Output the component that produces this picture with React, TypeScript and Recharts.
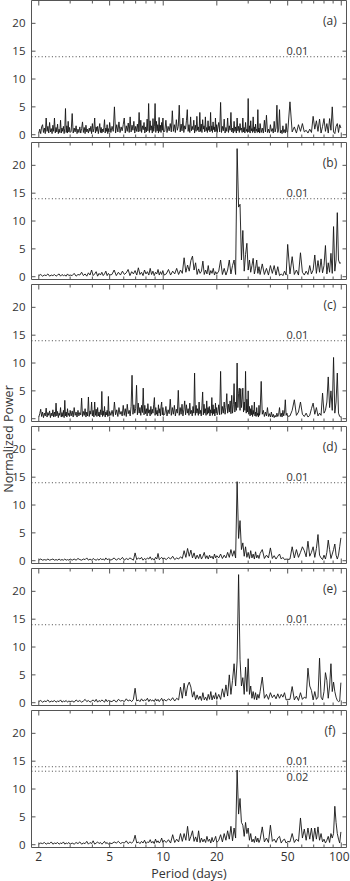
import { LineChart, Line, XAxis, YAxis, ReferenceArea, ReferenceDot, ReferenceLine } from 'recharts'

// period grid (days) for panels b, d, e, f
const periods = [
  2.00, 2.05, 2.10, 2.15, 2.20, 2.25, 2.30, 2.35, 2.40, 2.45, 2.50, 2.55, 2.60, 2.65, 2.70, 2.75, 2.80, 2.85, 2.90, 2.95, 3.00,
  3.08, 3.16, 3.24, 3.32, 3.40, 3.48, 3.56, 3.64, 3.72, 3.80, 3.88, 3.96, 4.04, 4.12, 4.20, 4.28, 4.36, 4.44, 4.52, 4.60, 4.68, 4.76, 4.84, 4.92, 5.00,
  5.15, 5.30, 5.45, 5.60, 5.75, 5.90, 6.05, 6.20, 6.35, 6.50, 6.65, 6.80, 6.95, 7.10, 7.25, 7.40, 7.55, 7.70, 7.85, 8.00, 8.15, 8.30, 8.45, 8.60, 8.75, 8.90, 9.05, 9.20, 9.35, 9.50, 9.65, 9.80, 9.95, 10.1,
  10.4, 10.7, 11.0, 11.3, 11.6, 11.9, 12.2, 12.5, 12.8, 13.1, 13.4, 13.7, 14.0, 14.3, 14.6, 14.9, 15.2, 15.5, 15.8, 16.1, 16.4, 16.7, 17.0, 17.3, 17.6, 17.9, 18.2, 18.5, 18.8, 19.1, 19.4, 19.7, 20.0,
  20.5, 21, 21.5, 22, 22.5, 23, 23.5, 24, 24.5, 25, 25.5, 26, 26.5, 27, 27.5, 28, 28.5, 29, 29.5, 30, 30.5, 31, 31.5, 32, 32.5, 33, 33.5, 34, 34.5, 35,
  36, 37, 38, 39, 40, 41, 42, 43, 44, 45, 46, 47, 48, 49, 50,
  51.5, 53, 54.5, 56, 57.5, 59, 60.5, 62, 63.5, 65, 66.5, 68, 69.5, 71, 72.5, 74, 75.5, 77, 78.5, 80, 81.5, 83, 84.5, 86, 87.5, 89, 90.5, 92, 93.5, 95, 96.5, 98, 99.5,
]

// finer period grid (days) for the noisy panels a and c
const periodsDense = [
  2.000, 2.025, 2.050, 2.075, 2.100, 2.125, 2.150, 2.175, 2.200, 2.225, 2.250, 2.275, 2.300, 2.325, 2.350, 2.375, 2.400, 2.425, 2.450, 2.475,
  2.500, 2.525, 2.550, 2.575, 2.600, 2.625, 2.650, 2.675, 2.700, 2.725, 2.750, 2.775, 2.800, 2.825, 2.850, 2.875, 2.900, 2.925, 2.950, 2.975, 3.000,
  3.04, 3.08, 3.12, 3.16, 3.20, 3.24, 3.28, 3.32, 3.36, 3.40, 3.44, 3.48, 3.52, 3.56, 3.60, 3.64, 3.68, 3.72, 3.76, 3.80,
  3.84, 3.88, 3.92, 3.96, 4.00, 4.04, 4.08, 4.12, 4.16, 4.20, 4.24, 4.28, 4.32, 4.36, 4.40, 4.44, 4.48, 4.52, 4.56, 4.60,
  4.64, 4.68, 4.72, 4.76, 4.80, 4.84, 4.88, 4.92, 4.96, 5.00,
  5.08, 5.16, 5.24, 5.32, 5.40, 5.48, 5.56, 5.64, 5.72, 5.80, 5.88, 5.96, 6.04, 6.12, 6.20, 6.28, 6.36, 6.44, 6.52, 6.60,
  6.68, 6.76, 6.84, 6.92, 7.00, 7.08, 7.16, 7.24, 7.32, 7.40, 7.48, 7.56, 7.64, 7.72, 7.80, 7.88, 7.96, 8.04, 8.12, 8.20,
  8.28, 8.36, 8.44, 8.52, 8.60, 8.68, 8.76, 8.84, 8.92, 9.00, 9.08, 9.16, 9.24, 9.32, 9.40, 9.48, 9.56, 9.64, 9.72, 9.80,
  9.88, 9.96, 10.04,
  10.20, 10.35, 10.50, 10.65, 10.80, 10.95, 11.10, 11.25, 11.40, 11.55, 11.70, 11.85, 12.00, 12.15, 12.30, 12.45, 12.60, 12.75, 12.90, 13.05,
  13.20, 13.35, 13.50, 13.65, 13.80, 13.95, 14.10, 14.25, 14.40, 14.55, 14.70, 14.85, 15.00, 15.15, 15.30, 15.45, 15.60, 15.75, 15.90, 16.05,
  16.20, 16.35, 16.50, 16.65, 16.80, 16.95, 17.10, 17.25, 17.40, 17.55, 17.70, 17.85, 18.00, 18.15, 18.30, 18.45, 18.60, 18.75, 18.90, 19.05,
  19.20, 19.35, 19.50, 19.65, 19.80, 19.95, 20.10,
  20.25, 20.50, 20.75, 21.00, 21.25, 21.50, 21.75, 22.00, 22.25, 22.50, 22.75, 23.00, 23.25, 23.50, 23.75, 24.00, 24.25, 24.50, 24.75, 25.00,
  25.25, 25.50, 25.75, 26.00, 26.25, 26.50, 26.75, 27.00, 27.25, 27.50, 27.75, 28.00, 28.25, 28.50, 28.75, 29.00, 29.25, 29.50, 29.75, 30.00,
  30.25, 30.50, 30.75, 31.00, 31.25, 31.50, 31.75, 32.00, 32.25, 32.50, 32.75, 33.00, 33.25, 33.50, 33.75, 34.00, 34.25, 34.50, 34.75, 35.00,
  35.5, 36, 36.5, 37, 37.5, 38, 38.5, 39, 39.5, 40, 40.5, 41, 41.5, 42, 42.5, 43, 43.5, 44, 44.5, 45, 45.5, 46, 46.5, 47, 47.5, 48, 48.5, 49, 49.5, 50,
  51.5, 53, 54.5, 56, 57.5, 59, 60.5, 62, 63.5, 65, 66.5, 68, 69.5, 71, 72.5, 74, 75.5, 77, 78.5, 80, 81.5, 83, 84.5, 86, 87.5, 89, 90.5, 92, 93.5, 95, 96.5, 98, 99.5,
]

// normalized power, one list per panel
const powerA = [
  0.3, 1.0, 0.2, 1.4, 1.8,  0.4, 1.2, 0.2, 3.0, 0.6,  1.5, 0.3, 2.2, 0.5, 1.1,  0.2, 1.7, 0.6, 3.0, 0.3,
  1.3, 0.5, 1.9, 0.2, 1.0,  0.4, 2.6, 0.3, 1.2, 0.6,  1.5, 0.2, 1.1, 4.7, 0.4,  1.6, 0.3, 2.4, 0.5, 1.3,  0.4,
  0.6, 3.8, 0.3, 1.2, 0.5,  1.6, 0.2, 1.0, 0.4, 1.4,  0.3, 1.1, 2.3, 0.4, 1.3,  0.2, 1.7, 0.5, 1.0, 0.3,
  1.2, 0.6, 1.5, 0.2, 2.0,  0.5, 1.1, 3.0, 0.3, 1.4,  0.6, 1.5, 0.2, 1.1, 2.0,  0.4, 1.3, 0.3, 1.0, 0.5,
  1.3, 2.7, 0.3, 1.2, 0.6,  1.8, 0.2, 1.1, 0.5, 2.2,
  0.4, 1.5, 0.6, 5.0, 0.3,  1.8, 0.5, 2.3, 0.4, 1.4,  0.7, 1.8, 3.0, 0.3, 1.6,  0.6, 2.1, 0.4, 3.2, 0.5,
  1.7, 0.8, 2.4, 0.3, 1.5,  0.6, 1.9, 0.5, 4.0, 0.6,  2.6, 0.4, 1.6, 0.9, 2.2,  0.3, 1.4, 0.5, 2.8, 0.7,
  5.6, 0.4, 2.5, 0.8, 1.6,  0.3, 2.9, 0.6, 1.5, 5.6,  0.4, 2.4, 0.7, 1.8, 0.3,  3.1, 0.6, 1.7, 0.4, 2.2,
  0.8, 3.0, 0.5,
  0.6, 2.6, 0.4, 1.5, 0.7,  2.0, 0.5, 4.3, 0.6, 1.8,  0.4, 2.7, 0.8, 1.5, 5.3,  0.5, 1.9, 0.7, 3.0, 0.4,
  1.6, 1.0, 2.5, 4.5, 0.6,  1.8, 0.4, 3.2, 0.7, 1.5,  0.9, 2.6, 0.3, 1.7, 0.6,  3.3, 0.8, 1.4, 0.5, 4.0,
  0.6, 1.9, 0.4, 2.7, 1.0,  1.6, 0.5, 3.2, 0.7, 1.3,  0.4, 2.5, 0.8, 1.5, 0.5,  4.0, 0.7, 1.6, 0.4, 2.3,
  0.9, 1.4, 0.5, 3.0, 0.6,  1.8, 0.4,
  1.2, 2.2, 0.5, 5.8, 0.4,  1.5, 0.7, 2.8, 0.3, 1.3,  0.6, 3.0, 0.4, 1.6, 0.8,  4.0, 0.5, 1.2, 0.3, 2.4,
  0.6, 1.4, 0.3, 3.0, 0.7,  1.5, 0.4, 2.0, 0.8, 1.2,  0.4, 3.0, 0.5, 1.3, 0.3,  2.2, 0.6, 1.0, 0.4, 6.5,
  0.5, 1.6, 0.3, 2.5, 0.7,  1.1, 0.4, 3.2, 0.6, 1.4,  0.3, 1.9, 0.7, 1.0, 0.4,  4.5, 0.5, 1.2, 0.3, 2.0,
  0.4, 1.2, 0.3, 2.6, 0.5,  3.5, 0.4, 1.0, 0.3, 1.8,  0.6, 1.1, 0.3, 2.4, 0.5,  1.2, 5.3, 0.4, 1.0, 4.5,
  0.3, 0.8, 0.2, 1.6, 0.4,  0.9, 0.3, 2.0, 0.5, 0.4,
  5.9, 0.5, 1.4, 0.3, 1.8,  0.6, 2.0, 0.5, 0.8, 0.3,  1.0, 0.4, 3.3, 1.0, 2.5,  0.6, 2.8, 0.3, 1.5, 2.9,  0.6, 2.0, 0.3, 2.9, 0.8,  5.0, 0.5, 0.2, 1.5, 2.0,  0.4, 1.8, 1.2,
]

const powerB = [
  0.2, 0.4, 0.1, 0.3, 0.2,  0.5, 0.1, 0.3, 0.2, 0.4,  0.1, 0.3, 0.5, 0.1, 0.4,  0.2, 0.3, 0.1, 0.5, 0.2,  0.3,
  0.2, 0.6, 0.1, 0.4, 0.3,  0.8, 0.2, 0.5, 0.1, 0.7,  0.3, 1.2, 0.2, 0.5, 0.9,  0.1, 0.6, 0.3, 0.8, 0.2,  0.5, 1.0, 0.2, 0.6, 0.3,
  0.4, 1.2, 0.2, 0.8, 0.3,  1.0, 0.4, 0.7, 1.3, 0.2,  0.9, 0.5, 1.1, 0.3, 1.6,  0.4, 0.8, 0.2, 1.2, 0.5,  0.9, 0.3, 1.5, 0.4, 1.0,  0.2, 0.8, 0.5, 1.3, 0.3,  0.9, 0.4, 1.1, 0.3,
  0.5, 1.3, 0.3, 1.0, 0.5,  1.5, 0.4, 1.2, 0.6, 3.4,  0.8, 2.1, 1.0, 2.9, 3.7,  1.2, 2.5, 0.4, 1.4, 0.6,  1.0, 2.8, 0.4, 1.2, 0.5,  2.0, 0.3, 1.1, 0.6, 1.5,  0.3, 0.9, 0.5,
  1.0, 3.0, 0.4, 1.5, 0.3,  1.2, 3.0, 0.5, 2.0, 3.0,  0.4, 23.0, 12.5, 13.0, 3.0,  8.3, 1.0, 4.0, 6.0, 1.2,  3.0, 0.8, 2.0, 3.3, 0.5,  1.5, 3.0, 0.6, 1.8, 0.4,
  2.3, 0.4, 1.5, 0.3, 2.0,  0.6, 2.0, 0.3, 1.8, 0.2,  0.5, 0.2, 1.0, 0.3, 5.8,
  0.5, 3.6, 0.4, 1.2, 0.3,  4.3, 0.8, 0.3, 1.0, 0.4,  2.0, 0.5, 1.2, 3.9, 0.6,  2.9, 0.8, 3.2, 0.7, 2.0,  5.6, 0.5, 2.5, 0.8, 4.2,  0.6, 9.0, 1.0, 3.0, 11.5,  3.0, 2.4, 2.5,
]

const powerC = [
  0.3, 0.9, 1.7, 0.4, 1.2,  0.2, 1.0, 0.5, 1.9, 0.3,  1.1, 0.6, 1.4, 0.2, 1.0,  0.5, 1.6, 0.3, 1.2, 0.4,
  2.8, 0.5, 1.3, 0.2, 1.0,  0.6, 2.0, 0.3, 1.1, 0.4,  1.5, 0.2, 3.3, 0.5, 1.2,  0.3, 1.8, 0.6, 1.0, 0.4,  1.5,
  0.5, 1.4, 0.3, 2.0, 0.6,  1.2, 0.3, 1.5, 0.5, 1.1,  0.7, 3.7, 0.4, 1.3, 0.6,  1.8, 0.3, 1.2, 0.5, 3.9,
  0.4, 1.4, 0.8, 3.0, 0.5,  1.5, 0.3, 3.0, 0.6, 1.7,  0.4, 2.0, 0.5, 1.2, 0.3,  1.6, 0.7, 4.9, 0.4, 1.4,
  0.6, 2.2, 0.3, 1.2, 0.7,  1.5, 0.4, 4.0, 0.5, 1.3,
  0.6, 1.5, 0.4, 3.0, 0.7,  1.6, 0.4, 2.0, 0.8, 1.3,  0.5, 2.4, 0.6, 1.8, 0.4,  2.6, 0.9, 1.5, 0.5, 2.2,
  7.8, 0.8, 2.5, 1.0, 1.8,  6.0, 0.7, 2.8, 1.0, 2.0,  0.6, 2.4, 1.1, 5.5, 0.7,  2.4, 0.9, 1.8, 0.5, 2.7,
  1.0, 1.6, 0.5, 2.2, 0.8,  1.7, 1.0, 2.5, 3.8, 0.6,  2.0, 0.8, 1.5, 0.5, 2.5,  1.0, 1.8, 0.5, 2.2, 3.0,
  0.7, 2.0, 0.6,
  0.8, 2.2, 0.5, 1.6, 0.9,  3.5, 0.6, 2.0, 0.8, 2.4,  0.5, 1.7, 1.0, 5.1, 0.6,  2.0, 0.8, 2.6, 0.5, 1.6,
  3.2, 0.7, 2.5, 1.0, 1.8,  0.6, 2.8, 0.9, 1.5, 0.5,  2.2, 1.0, 8.2, 0.6, 2.4,  1.0, 1.8, 0.6, 3.0, 0.9,
  1.5, 0.5, 2.3, 4.8, 0.7,  2.6, 1.0, 1.8, 0.6, 3.2,  0.8, 2.0, 1.0, 2.2, 0.5,  1.6, 1.0, 3.8, 0.6, 2.5,
  0.9, 1.7, 0.5, 2.8, 1.0,  2.0, 0.7,
  1.0, 2.5, 0.7, 8.5, 0.8,  2.2, 1.0, 3.0, 0.8, 2.0,  4.5, 1.0, 2.6, 1.2, 3.2,  0.9, 4.2, 1.0, 2.5, 6.3,
  1.2, 3.0, 1.5, 10.0, 2.0,  4.5, 5.5, 1.5, 5.4, 2.0,  3.5, 5.5, 1.2, 3.0, 1.5,  8.5, 1.0, 3.5, 1.2, 5.0,
  0.8, 2.2, 0.5, 1.8, 0.7,  2.4, 0.4, 1.5, 0.8, 3.0,  0.5, 1.2, 0.4, 2.0, 0.6,  1.0, 0.3, 2.4, 0.6, 1.2,
  6.7, 0.8, 1.5, 0.4, 1.2,  0.5, 2.0, 0.4, 0.9, 0.3,  1.2, 0.3, 0.8, 0.2, 0.6,  0.3, 1.0, 0.4, 0.8, 2.0,
  0.4, 1.0, 0.3, 1.5, 0.5,  1.2, 3.4, 0.6, 1.0, 0.4,
  0.5, 1.5, 3.4, 0.6, 1.2,  3.0, 0.8, 0.4, 1.0, 0.3,  0.6, 1.8, 2.8, 0.8, 2.0,  0.5, 1.0, 0.6, 4.6, 1.0,  1.5, 3.0, 7.5, 2.0, 5.0,  1.5, 11.0, 1.0, 3.0, 8.2,  1.0, 0.4, 0.3,
]

const powerD = [
  0.1, 0.3, 0.1, 0.2, 0.1,  0.3, 0.1, 0.2, 0.3, 0.1,  0.2, 0.1, 0.3, 0.1, 0.2,  0.1, 0.3, 0.1, 0.2, 0.1,  0.3,
  0.1, 0.3, 0.1, 0.4, 0.2,  0.1, 0.3, 0.2, 0.5, 0.1,  0.3, 0.1, 0.4, 0.2, 0.1,  0.3, 0.1, 0.4, 0.2, 0.3,  0.1, 0.5, 0.2, 0.3, 0.1,
  0.2, 0.5, 0.1, 0.4, 0.2,  0.6, 0.1, 0.4, 0.2, 0.5,  0.3, 0.1, 1.4, 0.2, 0.5,  0.3, 0.6, 0.1, 0.4, 0.2,  0.5, 0.3, 0.7, 0.2, 0.4,  0.1, 0.6, 0.3, 1.3, 0.2,  0.4, 0.6, 0.3, 0.5,
  0.2, 0.6, 0.3, 0.8, 0.2,  0.5, 0.3, 0.7, 0.4, 1.8,  0.6, 2.2, 0.8, 1.9, 0.5,  1.4, 0.3, 1.0, 0.4, 1.2,  0.3, 0.8, 1.5, 0.4, 0.9,  0.3, 1.0, 0.5, 0.8, 0.3,  1.2, 0.5, 0.9,
  0.5, 1.2, 0.4, 1.0, 0.5,  1.5, 0.6, 2.0, 0.8, 1.8,  0.5, 14.2, 4.0, 7.2, 2.0,  3.2, 0.8, 2.5, 0.6, 1.5,  0.4, 1.8, 0.5, 1.2, 0.3,  1.6, 0.5, 1.0, 0.4, 1.3,
  2.0, 0.4, 1.0, 0.5, 2.3,  0.4, 0.9, 0.3, 0.8, 1.2,  0.3, 0.6, 0.2, 0.3, 0.2,
  0.3, 2.5, 0.5, 2.0, 0.6,  1.5, 2.5, 1.8, 0.7, 3.5,  0.8, 1.5, 2.5, 0.6, 2.2,  4.7, 1.0, 0.5, 0.2, 1.0,  0.3, 1.5, 3.7, 2.0, 0.4,  1.2, 2.0, 3.0, 1.0, 0.3,  1.0, 2.5, 4.1,
]

const powerE = [
  0.2, 0.4, 0.1, 0.3, 0.2,  0.5, 0.1, 0.3, 0.2, 0.4,  0.1, 0.3, 0.2, 0.5, 0.1,  0.3, 0.2, 0.4, 0.1, 0.3,  0.2,
  0.3, 0.1, 0.5, 0.2, 0.4,  0.1, 0.3, 0.6, 0.2, 0.4,  0.1, 0.3, 0.5, 0.2, 0.6,  0.1, 0.4, 0.2, 0.5, 0.3,  0.1, 0.6, 0.2, 0.4, 0.3,
  0.2, 0.5, 0.1, 0.6, 0.3,  0.4, 0.2, 0.7, 0.3, 0.5,  0.2, 0.6, 2.6, 0.3, 0.5,  0.2, 0.7, 0.3, 0.5, 0.4,  0.8, 0.2, 0.6, 0.3, 0.5,  0.2, 0.7, 0.3, 0.6, 0.2,  0.5, 0.8, 0.3, 0.6,
  0.3, 0.7, 0.4, 0.9, 0.3,  0.8, 0.5, 2.8, 0.8, 3.5,  1.2, 3.0, 3.7, 2.8, 1.0,  2.0, 0.5, 1.4, 0.6, 1.2,  0.4, 1.8, 0.5, 1.0, 0.4,  1.5, 0.6, 2.0, 0.5, 1.3,  0.7, 1.8, 0.6,
  1.5, 0.6, 2.5, 1.0, 3.2,  1.2, 5.0, 1.5, 4.0, 7.0,  3.0, 7.5, 23.0, 7.8, 3.0,  4.5, 1.5, 6.4, 2.0, 7.9,  1.5, 3.0, 0.8, 2.0, 0.6,  1.8, 0.5, 1.5, 0.8, 2.0,
  4.6, 0.8, 1.5, 0.6, 1.8,  0.9, 1.4, 0.7, 1.6, 0.8,  1.5, 1.0, 1.8, 0.5, 0.6,
  0.6, 2.9, 0.5, 1.2, 0.4,  1.8, 0.6, 1.0, 0.8, 6.2,  3.0, 2.2, 0.5, 2.0, 0.6,  1.0, 8.0, 1.0, 0.5, 2.0,  5.4, 4.0, 0.8, 3.0, 7.0,  2.0, 3.7, 2.0, 1.0, 0.4,  0.2, 0.3, 3.6,
]

const powerF = [
  0.1, 0.3, 0.2, 0.4, 0.1,  0.3, 0.2, 0.5, 0.1, 0.3,  0.2, 0.4, 0.1, 0.3, 0.2,  0.5, 0.1, 0.3, 0.2, 0.4,  0.1,
  0.3, 0.1, 0.4, 0.2, 0.5,  0.1, 0.3, 0.2, 0.6, 0.1,  0.4, 0.2, 0.7, 0.1, 0.3,  0.5, 0.2, 0.4, 0.1, 0.3,  0.6, 0.2, 0.4, 0.1, 0.3,
  0.2, 0.5, 0.3, 0.6, 0.2,  0.4, 0.3, 0.7, 0.2, 0.5,  0.3, 0.6, 1.7, 0.3, 0.5,  0.2, 0.6, 0.3, 0.8, 0.2,  0.5, 0.4, 0.9, 0.3, 0.6,  0.2, 1.0, 0.4, 0.7, 0.3,  0.6, 1.2, 0.4, 0.8,
  0.4, 0.9, 0.3, 1.8, 0.4,  1.0, 0.5, 2.0, 0.6, 2.0,  0.8, 3.3, 0.7, 1.5, 2.5,  0.6, 1.4, 0.5, 2.5, 0.4,  1.2, 0.5, 1.0, 0.4, 1.5,  0.6, 1.0, 0.3, 1.3, 0.5,  0.9, 1.5, 0.4,
  0.8, 1.8, 0.5, 2.0, 0.8,  2.5, 1.0, 3.3, 0.7, 3.0,  1.2, 13.4, 5.5, 8.3, 4.0,  3.5, 1.5, 4.0, 2.0, 3.0,  0.8, 2.0, 0.5, 1.0, 0.4,  1.5, 0.5, 1.2, 0.4, 0.9,
  3.2, 0.5, 1.2, 0.4, 3.5,  0.6, 1.0, 0.4, 1.2, 1.5,  0.3, 0.8, 1.0, 0.3, 0.6,
  0.5, 2.0, 0.4, 1.0, 0.6,  4.8, 1.2, 2.8, 0.8, 3.0,  1.0, 3.0, 0.6, 3.0, 1.0,  3.2, 0.8, 2.0, 0.5, 1.0,  0.3, 0.8, 1.5, 0.4, 2.0,  1.2, 2.0, 6.9, 4.0, 2.0,  1.0, 0.3, 2.3,
]

const panelGrids = [periodsDense, periods, periodsDense, periods, periods, periods]
const panelPowers = [powerA, powerB, powerC, powerD, powerE, powerF]
const panelTags = ['(a)', '(b)', '(c)', '(d)', '(e)', '(f)']
const fapLevels = [14.0, 13.2]
const fapLabels = ['0.01', '0.02']
const periodTicks = [2, 3, 4, 5, 6, 7, 8, 9, 10, 20, 30, 40, 50, 60, 70, 80, 90, 100]
const periodLabels = [2, 5, 10, 20, 50, 100]
const powerTicks = [0, 5, 10, 15, 20]

const W = 350
const H = 881
const PANEL_H = 142
const LAST_H = 171
const PLOT_TOP = 0.5
const PLOT_H = 137
const PLOT_LEFT = 31.5
const PLOT_RIGHT = 346.5
const X_MIN = 1.82
const X_MAX = 107
const Y_MIN = -0.5
const Y_MAX = 24.1
const FONT = '"Open Sans", "Noto Sans", sans-serif'
const AXIS = '#555'
const TEXT = '#333'

function Panel({ grid, power, tag, nLevels, last }: { grid: number[]; power: number[]; tag: string; nLevels: number; last: boolean }) {
  const data = grid.map((p, i) => ({ period: p, power: power[i] }))
  const height = last ? LAST_H : PANEL_H
  const bottom = PLOT_TOP + PLOT_H

  const xTick = (props: any) => {
    const x = props.x
    const v = props.payload.value
    const major = periodLabels.includes(v)
    const len = major ? 5 : 3
    // keep the last label inside the page, as in the original figure
    const tx = v === 100 ? x - 2 : x
    return (
      <g>
        <line x1={x} x2={x} y1={bottom} y2={bottom - len} stroke={AXIS} />
        <line x1={x} x2={x} y1={PLOT_TOP} y2={PLOT_TOP + len} stroke={AXIS} />
        {last && major && (
          <text x={tx} y={bottom + 13} textAnchor="middle" fontSize={12} fill={TEXT} fontFamily={FONT}>
            {v}
          </text>
        )}
      </g>
    )
  }

  const yTick = (props: any) => {
    const y = props.y
    return (
      <g>
        <line x1={PLOT_LEFT} x2={PLOT_LEFT + 4} y1={y} y2={y} stroke={AXIS} />
        <line x1={PLOT_RIGHT - 4} x2={PLOT_RIGHT} y1={y} y2={y} stroke={AXIS} />
        <text x={25.5} y={y + 4} textAnchor="end" fontSize={11.5} fill={TEXT} fontFamily={FONT}>
          {props.payload.value}
        </text>
      </g>
    )
  }

  return (
    <LineChart
      width={W}
      height={height}
      data={data}
      margin={{ top: PLOT_TOP, right: W - PLOT_RIGHT, bottom: 0, left: 0 }}
    >
      <XAxis
        dataKey="period"
        type="number"
        scale="log"
        domain={[X_MIN, X_MAX]}
        allowDataOverflow
        ticks={periodTicks}
        interval={0}
        tick={xTick}
        tickLine={false}
        axisLine={false}
        height={height - bottom}
      />
      <YAxis
        type="number"
        domain={[Y_MIN, Y_MAX]}
        allowDataOverflow
        ticks={powerTicks}
        interval={0}
        tick={yTick}
        tickLine={false}
        axisLine={false}
        width={PLOT_LEFT}
      />
      <ReferenceArea
        x1={X_MIN}
        x2={X_MAX}
        y1={Y_MIN}
        y2={Y_MAX}
        fill="none"
        stroke={AXIS}
        strokeWidth={1}
        ifOverflow="visible"
      />
      {fapLevels.slice(0, nLevels).map((lvl, i) => (
        <ReferenceLine key={'l' + i} y={lvl} stroke="#444" strokeDasharray="1 2.4" ifOverflow="visible" />
      ))}
      {fapLevels.slice(0, nLevels).map((lvl, i) => (
        <ReferenceDot
          key={'d' + i}
          x={56.7}
          y={lvl}
          r={0}
          fill="none"
          stroke="none"
          label={{
            value: fapLabels[i],
            position: i === 0 ? 'top' : 'bottom',
            offset: 2,
            fontSize: 11,
            fill: TEXT,
            fontFamily: FONT,
          }}
        />
      ))}
      <ReferenceDot
        x={86.4}
        y={20.5}
        r={0}
        fill="none"
        stroke="none"
        label={{ value: tag, position: 'center', fontSize: 12, fill: TEXT, fontFamily: FONT }}
      />
      <Line
        type="linear"
        dataKey="power"
        stroke="#151515"
        strokeWidth={0.9}
        dot={false}
        isAnimationActive={false}
      />
    </LineChart>
  )
}

export default function App() {
  return (
    <div style={{ position: 'absolute', left: 0, top: 0, width: W, height: H, background: '#fff', fontFamily: FONT }}>
      {panelPowers.map((p, i) => (
        <Panel key={i} grid={panelGrids[i]} power={p} tag={panelTags[i]} nLevels={i === 5 ? 2 : 1} last={i === 5} />
      ))}
      <svg width={W} height={H} style={{ position: 'absolute', left: 0, top: 0, pointerEvents: 'none' }}>
        <text transform="translate(12.5,439) rotate(-90)" textAnchor="middle" fontSize={12.5} fill={TEXT} fontFamily={FONT}>
          Normalized Power
        </text>
        <text x={189} y={878} textAnchor="middle" fontSize={12.5} fill={TEXT} fontFamily={FONT}>
          Period (days)
        </text>
      </svg>
    </div>
  )
}
